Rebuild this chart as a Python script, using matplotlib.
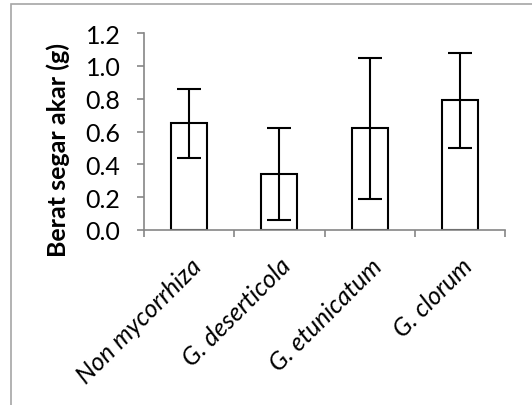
import matplotlib

matplotlib.use("Agg")
import matplotlib.pyplot as plt
from matplotlib.patches import Rectangle

categories = ["Non mycorrhiza", "G. deserticola", "G. etunicatum", "G. clorum"]
means = [0.65, 0.34, 0.62, 0.79]
errors = [0.21, 0.28, 0.43, 0.29]
y_ticks = [0.0, 0.2, 0.4, 0.6, 0.8, 1.0, 1.2]
y_label = "Berat segar akar (g)"

W, H = 532, 406
AXIS_GREY = "#868686"
FS = 18

plt.rcParams["font.family"] = ["Lato", "DejaVu Sans"]

fig = plt.figure(figsize=(W / 100, H / 100), dpi=100)
fig.patch.set_facecolor("white")

# Chart-area frame (cut off on the right and bottom like the source).
fig.add_artist(Rectangle((11 / W, -0.1), 1.2, (H - 5) / H + 0.1,
                         transform=fig.transFigure, fill=False,
                         edgecolor="#a6a6a6", linewidth=1.2, clip_on=False))

ax = fig.add_axes([144 / W, (H - 231) / H, (505 - 144) / W, (231 - 34) / H])
x = range(len(categories))
ax.bar(x, means, width=0.4, color="white", edgecolor="black", linewidth=1.5, zorder=2)
ax.errorbar(x, means, yerr=errors, fmt="none", ecolor="black",
            elinewidth=1.5, capsize=8.5, capthick=1.5, zorder=3)

ax.set_xlim(-0.5, len(categories) - 0.5)
ax.set_ylim(0, 1.2)
ax.set_yticks(y_ticks)
ax.set_yticklabels([f"{v:.1f}" for v in y_ticks], fontsize=FS)
ax.set_xticks(list(x))
ax.set_xticklabels(categories, rotation=45, ha="right", rotation_mode="anchor",
                   fontsize=FS, style="italic")
ax.set_xticks([i - 0.5 for i in range(len(categories) + 1)], minor=True)
ax.tick_params(axis="x", which="major", length=0, pad=17)
ax.tick_params(axis="x", which="minor", length=5, color=AXIS_GREY, width=1.2)
ax.tick_params(axis="y", length=5, color=AXIS_GREY, width=1.2, pad=12)
ax.set_ylabel(y_label, fontsize=FS, fontweight="bold")
# Excel centres the title on the whole plot area, so it sits a bit lower.
ax.yaxis.set_label_coords(-0.205, 0.41)

for side in ("top", "right"):
    ax.spines[side].set_visible(False)
for side in ("left", "bottom"):
    ax.spines[side].set_color(AXIS_GREY)
    ax.spines[side].set_linewidth(1.2)

fig.savefig("out.png", dpi=100)
